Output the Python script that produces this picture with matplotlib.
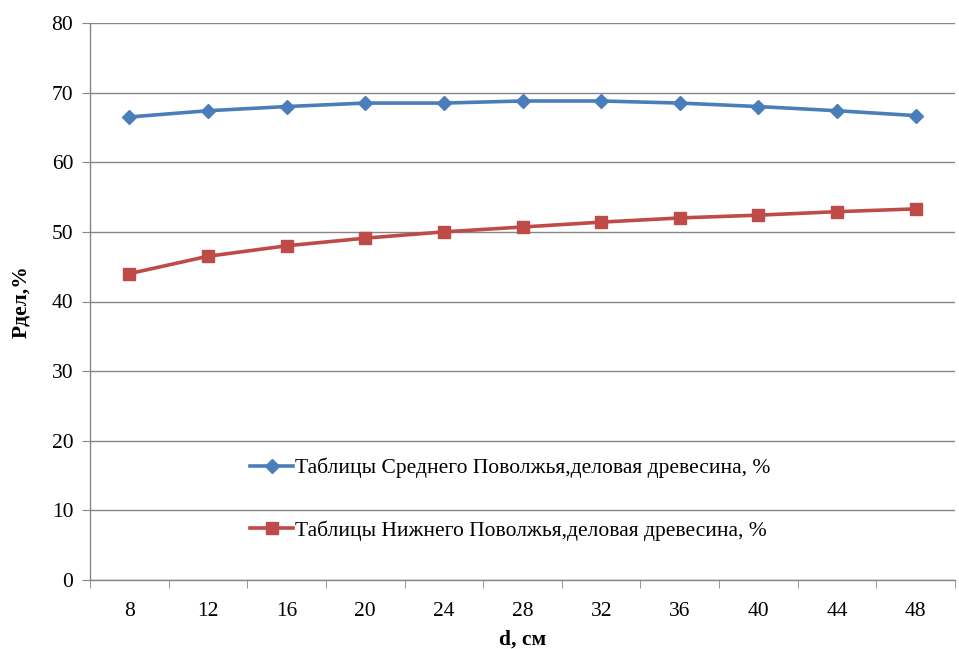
"""Выход деловой древесины по ступеням толщины."""

import matplotlib
matplotlib.use("Agg")
import matplotlib.pyplot as plt
import numpy as np

diameters = [8, 12, 16, 20, 24, 28, 32, 36, 40, 44, 48]
middle_volga = [66.5, 67.4, 68.0, 68.5, 68.5, 68.8, 68.8, 68.5, 68.0, 67.4, 66.7]
lower_volga = [44.0, 46.5, 48.0, 49.1, 50.0, 50.7, 51.4, 52.0, 52.4, 52.9, 53.3]

labels = [
    "Таблицы Среднего Поволжья,деловая древесина, %",
    "Таблицы Нижнего Поволжья,деловая древесина, %",
]

BLUE = "#4A7EBB"
RED = "#BE4B48"
GRID = "#868686"
FS = 15.5

plt.rcParams["font.family"] = ["Liberation Serif", "DejaVu Serif"]

fig = plt.figure(figsize=(9.59, 6.49), dpi=100)
ax = fig.add_axes([90 / 959, 1 - 580 / 649, 865 / 959, 557 / 649])

x = np.arange(len(diameters))
ax.plot(x, middle_volga, color=BLUE, linewidth=2.6, marker="D", markersize=7,
        label=labels[0], zorder=3)
ax.plot(x, lower_volga, color=RED, linewidth=2.6, marker="s", markersize=8,
        label=labels[1], zorder=3)

ax.set_xlim(-0.5, len(diameters) - 0.5)
ax.set_ylim(0, 80)
ax.set_yticks(np.arange(0, 81, 10))
ax.set_xticks(x)
ax.set_xticklabels([str(d) for d in diameters])
ax.set_xticks(np.arange(-0.5, len(diameters)), minor=True)
ax.tick_params(axis="x", which="major", length=0, pad=16, labelsize=FS)
ax.tick_params(axis="x", which="minor", length=6, color=GRID)
ax.tick_params(axis="y", length=6, color=GRID, labelsize=FS, pad=6)

ax.grid(axis="y", color=GRID, linewidth=1.0)
ax.set_axisbelow(True)
for side in ("top", "right"):
    ax.spines[side].set_visible(False)
for side in ("left", "bottom"):
    ax.spines[side].set_color(GRID)
    ax.spines[side].set_linewidth(1.0)

ax.set_xlabel("d, см", fontsize=FS, fontweight="bold", labelpad=6)
ax.set_ylabel("Pдел,%", fontsize=FS, fontweight="bold", labelpad=15)

ax.legend(loc="upper left", bbox_to_anchor=(0.175, 0.235), frameon=False,
          fontsize=FS, handlelength=2.0, handletextpad=0.1,
          labelspacing=1.95, borderaxespad=0)

fig.savefig("out.png", dpi=100)
